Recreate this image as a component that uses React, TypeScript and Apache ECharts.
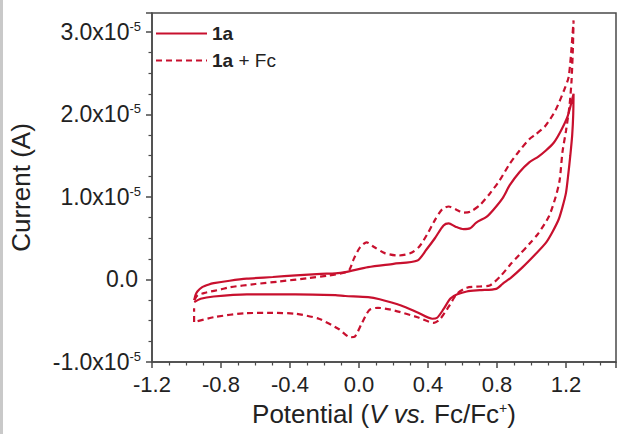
import React, { useEffect, useRef } from "react";
import * as echarts from "echarts";

// Potential (V vs. Fc/Fc+) and current (units of 1e-5 A)
const potential1a = [
  -0.955, -0.948, -0.937, -0.909, -0.87, -0.842, -0.75, -0.651, -0.5, -0.366, -0.22, -0.137, -0.08,
  0.053, 0.2, 0.339, 0.39, 0.44, 0.49, 0.52, 0.56, 0.606, 0.644, 0.68, 0.739, 0.777, 0.834, 0.873,
  0.93, 0.987, 1.04, 1.082, 1.13, 1.17, 1.21, 1.244,
  1.242, 1.236, 1.225, 1.212, 1.2, 1.18, 1.158, 1.12, 1.082, 1.02, 0.949, 0.88, 0.834, 0.796, 0.7,
  0.625, 0.57, 0.53, 0.49, 0.453, 0.425, 0.34, 0.244, 0.12, 0.053, -0.08, -0.137, -0.37, -0.65,
  -0.842, -0.918, -0.955,
];
const current1a = [
  -0.25, -0.19, -0.145, -0.093, -0.06, -0.045, -0.015, 0.01, 0.03, 0.05, 0.068, 0.075, 0.09,
  0.15, 0.19, 0.23, 0.36, 0.5, 0.655, 0.68, 0.64, 0.61, 0.62, 0.69, 0.76, 0.84, 0.99, 1.14,
  1.3, 1.42, 1.49, 1.56, 1.66, 1.8, 1.98, 2.25,
  2.0, 1.75, 1.5, 1.25, 1.05, 0.88, 0.73, 0.57, 0.44, 0.3, 0.15, 0.02, -0.05, -0.113, -0.13,
  -0.145, -0.18, -0.23, -0.36, -0.464, -0.476, -0.4, -0.315, -0.24, -0.214, -0.2, -0.19, -0.18, -0.18,
  -0.206, -0.234, -0.275,
];

const potentialFc = [
  -0.955, -0.935, -0.9, -0.88, -0.8, -0.747, -0.6, -0.461, -0.3, -0.175, -0.08, -0.055, -0.03,
  0.006, 0.044, 0.09, 0.149, 0.225, 0.3, 0.35, 0.396, 0.44, 0.482, 0.52, 0.57, 0.606, 0.644, 0.7,
  0.758, 0.815, 0.873, 0.93, 0.987, 1.025, 1.08, 1.139, 1.19, 1.215, 1.23, 1.244,
  1.24, 1.232, 1.22, 1.2, 1.18, 1.163, 1.14, 1.1, 1.04, 0.987, 0.93, 0.873, 0.82, 0.758, 0.7,
  0.625, 0.568, 0.52, 0.47, 0.434, 0.339, 0.206, 0.11, 0.06, 0.015, -0.023, -0.05, -0.118, -0.233,
  -0.366, -0.5, -0.651, -0.842, -0.956, -0.956,
];
const currentFc = [
  -0.25, -0.19, -0.165, -0.154, -0.12, -0.093, -0.055, -0.024, 0.015, 0.048, 0.085, 0.12, 0.25,
  0.39, 0.45, 0.39, 0.32, 0.29, 0.32, 0.4, 0.55, 0.72, 0.85, 0.885, 0.84, 0.81, 0.82, 0.9,
  1.04, 1.2, 1.4, 1.56, 1.7, 1.76, 1.86, 2.05, 2.3, 2.45, 2.75, 3.14,
  2.8, 2.4, 2.1, 1.8, 1.55, 1.2, 1.0, 0.76, 0.56, 0.43, 0.3, 0.17, 0.04, -0.073, -0.085,
  -0.1, -0.174, -0.33, -0.48, -0.525, -0.457, -0.376, -0.343, -0.37, -0.537, -0.69, -0.7, -0.6, -0.476,
  -0.416, -0.405, -0.408, -0.457, -0.517, -0.35,
];

const seriesNames = ["1a", "1a + Fc"];
const xTickStep = 0.4;
const yTickStep = 1;

const RED = "#c8102e";
const AXIS = "#4a4a4a";
const TEXT = "#222";
const FONT = "Liberation Sans, Arial, sans-serif";

export default function App() {
  const ref = useRef<HTMLDivElement>(null);

  useEffect(() => {
    if (!ref.current) return;
    const chart = echarts.init(ref.current, undefined, { renderer: "svg" });
    const pairs = (xs: number[], ys: number[]) => xs.map((x, i) => [x, ys[i]]);

    chart.setOption({
      animation: false,
      backgroundColor: "#ffffff",
      textStyle: { fontFamily: FONT },
      grid: {
        left: 144,
        top: 13,
        right: 1,
        bottom: 72,
        show: true,
        borderColor: AXIS,
        borderWidth: 1.5,
        backgroundColor: "transparent",
      },
      legend: {
        data: seriesNames,
        orient: "vertical",
        left: 150,
        top: 19,
        itemWidth: 51,
        itemHeight: 14,
        itemGap: 8,
        itemStyle: { opacity: 0 },
        formatter: (name: string) =>
          name === "1a" ? "{b|1a}" : "{b|1a}{r| + Fc}",
        textStyle: {
          color: TEXT,
          rich: {
            b: { fontFamily: FONT, fontSize: 19, fontWeight: "bold", color: TEXT, lineHeight: 20 },
            r: { fontFamily: FONT, fontSize: 19, color: TEXT, lineHeight: 20 },
          },
        },
      },
      graphic: [
        {
          type: "rect",
          shape: { x: 0, y: 0, width: 3, height: 434 },
          style: { fill: "#c9c9c9" },
          silent: true,
        },
      ],
      xAxis: {
        type: "value",
        min: -1.2,
        max: 1.49,
        interval: xTickStep,
        name: "{r|Potential (}{i|V vs.}{r| Fc/Fc}{p|+}{r|)}",
        nameLocation: "middle",
        nameGap: 39,
        nameTextStyle: {
          rich: {
            r: { fontFamily: FONT, fontSize: 26, color: TEXT },
            i: { fontFamily: FONT, fontSize: 26, fontStyle: "italic", color: TEXT },
            p: { fontFamily: FONT, fontSize: 14, color: TEXT, verticalAlign: "top", lineHeight: 14 },
          },
        },
        axisLine: { onZero: false, lineStyle: { color: AXIS, width: 1.5 } },
        axisTick: { show: true, length: 6, lineStyle: { color: AXIS, width: 1.5 } },
        minorTick: { show: true, splitNumber: 4, length: 3.5, lineStyle: { color: AXIS, width: 1.2 } },
        splitLine: { show: false },
        axisLabel: {
          color: TEXT,
          fontSize: 22,
          fontFamily: FONT,
          margin: 11,
          showMaxLabel: false,
          formatter: (v: number) => v.toFixed(1),
        },
      },
      yAxis: {
        type: "value",
        min: -1,
        max: 3.23,
        interval: yTickStep,
        name: "Current (A)",
        nameLocation: "middle",
        nameGap: 118,
        nameTextStyle: { fontFamily: FONT, fontSize: 26, color: TEXT },
        axisLine: { onZero: false, lineStyle: { color: AXIS, width: 1.5 } },
        axisTick: { show: true, length: 6, lineStyle: { color: AXIS, width: 1.5 } },
        minorTick: { show: true, splitNumber: 4, length: 3.5, lineStyle: { color: AXIS, width: 1.2 } },
        splitLine: { show: false },
        axisLabel: {
          color: TEXT,
          margin: 11,
          showMaxLabel: false,
          formatter: (v: number) =>
            Math.abs(v) < 1e-9 ? "{z|0.0}" : `{n|${v.toFixed(1)}x10}{s|-5}`,
          rich: {
            n: { fontFamily: FONT, fontSize: 23, color: TEXT, lineHeight: 24 },
            z: { fontFamily: FONT, fontSize: 23, color: TEXT, lineHeight: 24, padding: [0, 3, 0, 0] },
            s: { fontFamily: FONT, fontSize: 13, color: TEXT, verticalAlign: "top", lineHeight: 13 },
          },
        },
      },
      series: [
        {
          name: seriesNames[0],
          type: "line",
          data: pairs(potential1a, current1a),
          showSymbol: false,
          symbol: "none",
          smooth: 0.25,
          lineStyle: { color: RED, width: 2.2, type: "solid" },
          itemStyle: { color: RED },
          z: 3,
        },
        {
          name: seriesNames[1],
          type: "line",
          data: pairs(potentialFc, currentFc),
          showSymbol: false,
          symbol: "none",
          smooth: 0.25,
          lineStyle: { color: RED, width: 2.2, type: [6, 4] },
          itemStyle: { color: RED },
          z: 2,
        },
      ],
    });

    return () => chart.dispose();
  }, []);

  return (
    <div
      ref={ref}
      style={{ position: "absolute", left: 0, top: 0, width: 617, height: 434, background: "#fff" }}
    />
  );
}
